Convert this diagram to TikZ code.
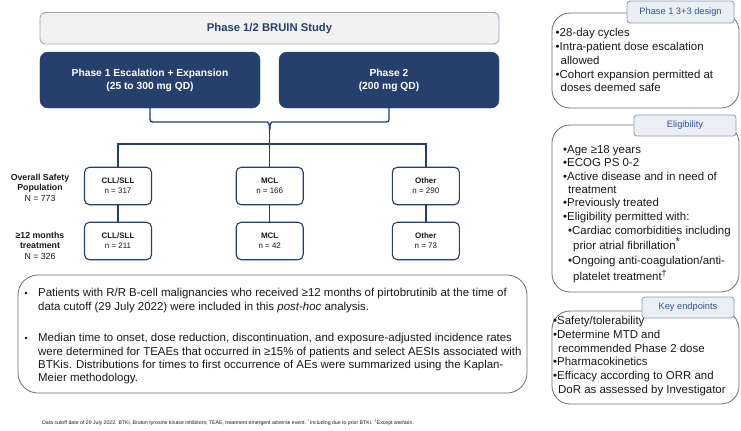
\documentclass[tikz,border=0pt]{standalone}
\usepackage{fontspec}
\setmainfont{Liberation Sans}
\definecolor{navy}{HTML}{25406C}
\definecolor{titlefill}{HTML}{F2F2F2}
\definecolor{titleline}{HTML}{93A6C2}
\definecolor{boxgray}{HTML}{6F6F6F}
\definecolor{tabfill}{HTML}{EBEEF3}
\definecolor{tabline}{HTML}{8A9CB6}
\definecolor{tabtext}{HTML}{2F5597}
\definecolor{ink}{HTML}{1A1A1A}
\tikzset{
  navybox/.style={draw=navy, fill=navy, rounded corners=8bp, text=white, align=center,
    font=\bfseries\fontsize{10.3}{13.3}\selectfont, minimum width=220bp, minimum height=56bp, inner sep=0},
  titlebox/.style={draw=titleline, fill=titlefill, line width=0.8bp, rounded corners=5bp, text=navy,
    font=\bfseries\fontsize{11.3}{13}\selectfont, minimum width=459bp, minimum height=31.5bp, inner sep=0},
  popbox/.style={draw=navy, line width=1.1bp, fill=white, rounded corners=5bp, minimum width=67bp,
    minimum height=37.5bp, align=center, inner sep=0, text=ink, font=\fontsize{8}{10}\selectfont},
  poplabel/.style={align=center, inner sep=0, text=ink, font=\fontsize{8.8}{10.5}\selectfont},
  conn/.style={draw=navy, line width=1.4bp},
  infobox/.style={draw=boxgray, line width=0.8bp, rounded corners=18bp, inner sep=0},
  tabbox/.style={draw=tabline, fill=tabfill, line width=0.8bp, rounded corners=3bp, text=tabtext,
    inner sep=0, font=\fontsize{9.3}{11}\selectfont},
  txt/.style={anchor=base west, inner sep=0, text=ink, font=\fontsize{11.5}{14}\selectfont},
}
\begin{document}
\begin{tikzpicture}[x=1bp,y=-1bp]
\fill[white] (0,0) rectangle (741,430);
\useasboundingbox (0,0) rectangle (741,430);

% title and phase boxes
\node[titlebox] (title) at (269.5,28.3) {Phase 1/2 BRUIN Study};
\node[navybox] (p1) at (150,80) {Phase 1 Escalation + Expansion\\(25 to 300 mg QD)};
\node[navybox] (p2) at (389,80) {Phase 2\\(200 mg QD)};

% population boxes
\node[popbox] (cll1) at (118,186) {{\bfseries CLL/SLL}\\n = 317};
\node[popbox] (mcl1) at (269.7,186) {{\bfseries MCL}\\n = 166};
\node[popbox] (oth1) at (425.8,186) {{\bfseries Other}\\n = 290};
\node[popbox] (cll2) at (118,241) {{\bfseries CLL/SLL}\\n = 211};
\node[popbox] (mcl2) at (269.7,241) {{\bfseries MCL}\\n = 42};
\node[popbox] (oth2) at (425.8,241) {{\bfseries Other}\\n = 73};

\node[poplabel] (lab1) at (40,187.5) {{\bfseries Overall Safety}\\{\bfseries Population}\\N = 773};
\node[poplabel] (lab2) at (40,245.8) {{\bfseries \char"2265 12 months}\\{\bfseries treatment}\\N = 326};

% connectors
\coordinate (bt) at (269.7,130);
\coordinate (hy) at (0,144);
\draw[conn, rounded corners=2.5bp] (p1.south) |- (265,122) .. controls (268.5,122) and (269.7,124) .. (bt);
\draw[conn, rounded corners=2.5bp] (p2.south) |- (274.4,122) .. controls (270.9,122) and (269.7,124) .. (bt);
\draw[conn] (bt) -- (mcl1.north);
\draw[conn] (cll1.north) -- (cll1.north |- hy) -| (oth1.north);
\draw[conn] (cll1) -- (cll2);
\draw[conn] (mcl1) -- (mcl2);
\draw[conn] (oth1) -- (oth2);

% bottom text box
\node[infobox, minimum width=509bp, minimum height=118bp, rounded corners=20bp] (bbox) at (272.5,334) {};
\node[txt, font=\fontsize{9}{10}\selectfont] (bb1) at (24.5,296.7) {•};
\node[txt] (bl1) at (38,296.7) {Patients with R/R B-cell malignancies who received \char"2265 12 months of pirtobrutinib at the time of};
\node[txt] (bl2) at (38,310) {data cutoff (29 July 2022) were included in this \textit{post-hoc} analysis.};
\node[txt, font=\fontsize{9}{10}\selectfont] (bb2) at (24.5,341.7) {•};
\node[txt] (bl3) at (38,341.7) {Median time to onset, dose reduction, discontinuation, and exposure-adjusted incidence rates};
\node[txt] (bl4) at (38,355) {were determined for TEAEs that occurred in \char"2265 15\% of patients and select AESIs associated with};
\node[txt] (bl5) at (38,368.3) {BTKis. Distributions for times to first occurrence of AEs were summarized using the Kaplan-};
\node[txt] (bl6) at (38,381.7) {Meier methodology.};

% right info boxes
\node[infobox, minimum width=187bp, minimum height=95bp] (ib1) at (645.5,60.5) {};
\node[infobox, minimum width=187bp, minimum height=167bp] (ib2) at (645.5,208.5) {};
\node[infobox, minimum width=187bp, minimum height=93bp] (ib3) at (645.5,357.5) {};
\node[tabbox, minimum width=107bp, minimum height=22bp] (tab1) at (680.5,12) {Phase 1 3+3 design};
\node[tabbox, minimum width=102bp, minimum height=21bp] (tab2) at (685,125.5) {Eligibility};
\node[tabbox, minimum width=92bp, minimum height=21bp] (tab3) at (688,307.5) {Key endpoints};

% box 1 text
\node[txt] (a1) at (555.5,36.7) {•28-day cycles};
\node[txt] (a2) at (555.5,50.7) {•Intra-patient dose escalation};
\node[txt] (a3) at (555.5,64.3) {\hspace*{5bp}allowed};
\node[txt] (a4) at (555.5,78.3) {•Cohort expansion permitted at};
\node[txt] (a5) at (555.5,91.7) {\hspace*{5bp}doses deemed safe};

% box 2 text
\node[txt] (e1) at (563,153.3) {•Age \char"2265 18 years};
\node[txt] (e2) at (563,166.7) {•ECOG PS 0-2};
\node[txt] (e3) at (563,180) {•Active disease and in need of};
\node[txt] (e4) at (563,193.3) {\hspace*{5bp}treatment};
\node[txt] (e5) at (563,206.7) {•Previously treated};
\node[txt] (e6) at (563,220) {•Eligibility permitted with:};
\node[txt] (e7) at (568,234) {•Cardiac comorbidities including};
\node[txt] (e8) at (568,249.3) {\hspace*{5bp}prior atrial fibrillation\raisebox{3.5bp}{*}};
\node[txt] (e9) at (568,264) {•Ongoing anti-coagulation/anti-};
\node[txt] (e10) at (568,280) {\hspace*{5bp}platelet treatment\raisebox{3.5bp}{\fontsize{9}{10}\selectfont\char"2020}};

% box 3 text
\node[txt] (k1) at (553,324.3) {•Safety/tolerability};
\node[txt] (k2) at (553,338.3) {•Determine MTD and};
\node[txt] (k3) at (553,352.3) {\hspace*{5bp}recommended Phase 2 dose};
\node[txt] (k4) at (553,365.7) {•Pharmacokinetics};
\node[txt] (k5) at (553,379.3) {•Efficacy according to ORR and};
\node[txt] (k6) at (553,393.3) {\hspace*{5bp}DoR as assessed by Investigator};

% footnote
\node[txt, font=\fontsize{5.2}{6}\selectfont] (foot) at (42,424) {Data cutoff date of 29 July 2022. BTKi, Bruton tyrosine kinase inhibitors; TEAE, treatment emergent adverse event. \textsuperscript{*}Including due to prior BTKi. \textsuperscript{\char"2020}Except warfarin.};
\end{tikzpicture}
\end{document}
